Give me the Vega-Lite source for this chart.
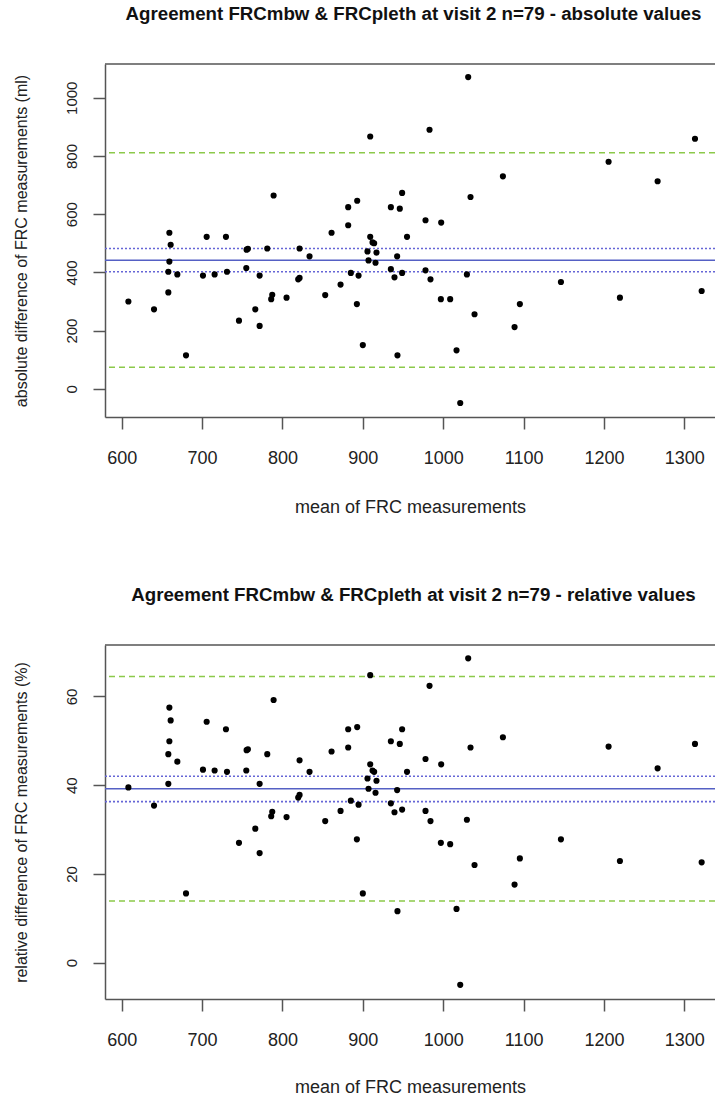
{
  "$schema": "https://vega.github.io/schema/vega-lite/v6.json",
  "padding": {"left": 12, "top": 5, "right": 0, "bottom": 0},
  "autosize": {"type": "pad"},
  "background": "white",
  "spacing": 70,
  "config": {
    "view": {"stroke": null},
    "font": "Liberation Sans",
    "axis": {
      "grid": false,
      "domainColor": "#555555",
      "domainWidth": 1.5,
      "tickColor": "#555555",
      "tickWidth": 1.5,
      "tickSize": 12,
      "labelColor": "#222222",
      "titleColor": "#222222",
      "labelFont": "Liberation Sans",
      "titleFont": "Liberation Sans",
      "titleFontWeight": "normal",
      "format": "d"
    },
    "title": {
      "font": "Liberation Sans",
      "fontSize": 18.7,
      "fontWeight": "bold",
      "color": "#111111",
      "anchor": "middle",
      "baseline": "alphabetic",
      "offset": 39.5,
      "dx": 3.5
    }
  },
  "datasets": {
    "pts": [
      {"mean": 608.3, "abs": 300, "rel": 39.5},
      {"mean": 640.2, "abs": 273, "rel": 35.4},
      {"mean": 659.3, "abs": 536, "rel": 57.5},
      {"mean": 660.9, "abs": 495, "rel": 54.6},
      {"mean": 659.3, "abs": 437, "rel": 49.9},
      {"mean": 658.0, "abs": 402, "rel": 47.0},
      {"mean": 658.0, "abs": 331, "rel": 40.3},
      {"mean": 669.2, "abs": 393, "rel": 45.3},
      {"mean": 680.0, "abs": 115, "rel": 15.6},
      {"mean": 701.1, "abs": 389, "rel": 43.5},
      {"mean": 705.7, "abs": 522, "rel": 54.3},
      {"mean": 715.6, "abs": 393, "rel": 43.3},
      {"mean": 729.7, "abs": 522, "rel": 52.6},
      {"mean": 731.0, "abs": 402, "rel": 43.0},
      {"mean": 745.9, "abs": 234, "rel": 27.0},
      {"mean": 755.4, "abs": 478, "rel": 47.9},
      {"mean": 757.0, "abs": 481, "rel": 48.1},
      {"mean": 755.0, "abs": 415, "rel": 43.3},
      {"mean": 766.2, "abs": 273, "rel": 30.2},
      {"mean": 771.6, "abs": 389, "rel": 40.3},
      {"mean": 771.6, "abs": 216, "rel": 24.7},
      {"mean": 781.1, "abs": 482, "rel": 47.0},
      {"mean": 786.0, "abs": 308, "rel": 33.0},
      {"mean": 787.3, "abs": 323, "rel": 34.0},
      {"mean": 789.0, "abs": 664, "rel": 59.2},
      {"mean": 805.1, "abs": 313, "rel": 32.8},
      {"mean": 819.6, "abs": 376, "rel": 37.2},
      {"mean": 821.3, "abs": 381, "rel": 37.8},
      {"mean": 821.3, "abs": 482, "rel": 45.6},
      {"mean": 833.7, "abs": 455, "rel": 43.0},
      {"mean": 853.2, "abs": 322, "rel": 31.9},
      {"mean": 861.1, "abs": 536, "rel": 47.6},
      {"mean": 872.3, "abs": 358, "rel": 34.2},
      {"mean": 881.8, "abs": 624, "rel": 52.6},
      {"mean": 881.8, "abs": 562, "rel": 48.5},
      {"mean": 885.1, "abs": 398, "rel": 36.5},
      {"mean": 892.6, "abs": 291, "rel": 27.8},
      {"mean": 893.0, "abs": 646, "rel": 53.1},
      {"mean": 894.7, "abs": 389, "rel": 35.6},
      {"mean": 900.0, "abs": 150, "rel": 15.6},
      {"mean": 905.8, "abs": 472, "rel": 41.5},
      {"mean": 907.1, "abs": 441, "rel": 39.2},
      {"mean": 909.2, "abs": 867, "rel": 64.8},
      {"mean": 909.2, "abs": 522, "rel": 44.7},
      {"mean": 912.1, "abs": 503, "rel": 43.3},
      {"mean": 914.1, "abs": 500, "rel": 43.0},
      {"mean": 917.0, "abs": 468, "rel": 41.0},
      {"mean": 915.8, "abs": 433, "rel": 38.3},
      {"mean": 934.9, "abs": 624, "rel": 49.9},
      {"mean": 934.9, "abs": 411, "rel": 35.9},
      {"mean": 939.4, "abs": 383, "rel": 33.9},
      {"mean": 942.7, "abs": 455, "rel": 38.9},
      {"mean": 943.1, "abs": 115, "rel": 11.6},
      {"mean": 946.0, "abs": 619, "rel": 49.3},
      {"mean": 948.9, "abs": 673, "rel": 52.6},
      {"mean": 948.9, "abs": 398, "rel": 34.5},
      {"mean": 955.0, "abs": 522, "rel": 43.0},
      {"mean": 978.0, "abs": 579, "rel": 45.9},
      {"mean": 978.0, "abs": 407, "rel": 34.2},
      {"mean": 983.0, "abs": 890, "rel": 62.4},
      {"mean": 984.2, "abs": 376, "rel": 31.9},
      {"mean": 997.5, "abs": 571, "rel": 44.7},
      {"mean": 997.1, "abs": 308, "rel": 27.0},
      {"mean": 1008.7, "abs": 308, "rel": 26.7},
      {"mean": 1016.6, "abs": 132, "rel": 12.1},
      {"mean": 1021.2, "abs": -49, "rel": -5.0},
      {"mean": 1029.5, "abs": 393, "rel": 32.2},
      {"mean": 1031.1, "abs": 1071, "rel": 68.6},
      {"mean": 1034.0, "abs": 659, "rel": 48.5},
      {"mean": 1039.0, "abs": 256, "rel": 22.0},
      {"mean": 1074.3, "abs": 730, "rel": 50.8},
      {"mean": 1088.8, "abs": 212, "rel": 17.6},
      {"mean": 1095.4, "abs": 291, "rel": 23.5},
      {"mean": 1146.5, "abs": 367, "rel": 27.8},
      {"mean": 1205.8, "abs": 780, "rel": 48.7},
      {"mean": 1219.9, "abs": 313, "rel": 22.9},
      {"mean": 1266.8, "abs": 713, "rel": 43.8},
      {"mean": 1313.3, "abs": 859, "rel": 49.3},
      {"mean": 1321.6, "abs": 336, "rel": 22.6}
    ]
  },
  "vconcat": [
    {
      "width": 610,
      "height": 353,
      "title": "Agreement FRCmbw & FRCpleth at visit 2 n=79 - absolute values",
      "layer": [
        {
          "data": {"values": [{"abs": 811}, {"abs": 74}]},
          "mark": {"type": "rule", "color": "#8cc94a", "strokeWidth": 1.6, "strokeDash": [6, 4]},
          "encoding": {"y": {"field": "abs", "type": "quantitative"}}
        },
        {
          "data": {"values": [{"abs": 482}, {"abs": 402}]},
          "mark": {"type": "rule", "color": "#6666d6", "strokeWidth": 1.6, "strokeDash": [2, 2]},
          "encoding": {"y": {"field": "abs", "type": "quantitative"}}
        },
        {
          "data": {"values": [{"abs": 442}]},
          "mark": {"type": "rule", "color": "#5560c4", "strokeWidth": 1.5},
          "encoding": {"y": {"field": "abs", "type": "quantitative"}}
        },
        {
          "data": {"values": [{"abs": 1116}]},
          "mark": {"type": "rule", "color": "#555555", "strokeWidth": 1.5},
          "encoding": {"y": {"field": "abs", "type": "quantitative"}}
        },
        {
          "data": {"name": "pts"},
          "mark": {"type": "circle", "size": 38, "color": "#000000", "opacity": 1},
          "encoding": {
            "x": {
              "field": "mean",
              "type": "quantitative",
              "scale": {"domain": [579.2, 1338.2], "nice": false, "zero": false},
              "axis": {
                "values": [600, 700, 800, 900, 1000, 1100, 1200, 1300],
                "title": "mean of FRC measurements",
                "labelFontSize": 18,
                "labelBaseline": "alphabetic",
                "labelPadding": 34,
                "titleFontSize": 18,
                "titleBaseline": "alphabetic",
                "titleY": 95
              }
            },
            "y": {
              "field": "abs",
              "type": "quantitative",
              "scale": {"domain": [-97, 1116], "nice": false, "zero": false},
              "axis": {
                "values": [0, 200, 400, 600, 800, 1000],
                "title": "absolute difference of FRC measurements (ml)",
                "labelAngle": -90,
                "labelAlign": "center",
                "labelBaseline": "alphabetic",
                "labelPadding": 17,
                "labelFontSize": 15,
                "titleFontSize": 16,
                "titleBaseline": "alphabetic",
                "titleX": -79
              }
            }
          }
        }
      ]
    },
    {
      "width": 610,
      "height": 354,
      "title": "Agreement FRCmbw & FRCpleth at visit 2 n=79 - relative values",
      "layer": [
        {
          "data": {"values": [{"rel": 64.5}, {"rel": 13.9}]},
          "mark": {"type": "rule", "color": "#8cc94a", "strokeWidth": 1.6, "strokeDash": [6, 4]},
          "encoding": {"y": {"field": "rel", "type": "quantitative"}}
        },
        {
          "data": {"values": [{"rel": 42.0}, {"rel": 36.3}]},
          "mark": {"type": "rule", "color": "#6666d6", "strokeWidth": 1.6, "strokeDash": [2, 2]},
          "encoding": {"y": {"field": "rel", "type": "quantitative"}}
        },
        {
          "data": {"values": [{"rel": 39.2}]},
          "mark": {"type": "rule", "color": "#5560c4", "strokeWidth": 1.5},
          "encoding": {"y": {"field": "rel", "type": "quantitative"}}
        },
        {
          "data": {"values": [{"rel": 71.6}]},
          "mark": {"type": "rule", "color": "#555555", "strokeWidth": 1.5},
          "encoding": {"y": {"field": "rel", "type": "quantitative"}}
        },
        {
          "data": {"name": "pts"},
          "mark": {"type": "circle", "size": 38, "color": "#000000", "opacity": 1},
          "encoding": {
            "x": {
              "field": "mean",
              "type": "quantitative",
              "scale": {"domain": [579.2, 1338.2], "nice": false, "zero": false},
              "axis": {
                "values": [600, 700, 800, 900, 1000, 1100, 1200, 1300],
                "title": "mean of FRC measurements",
                "labelFontSize": 18,
                "labelBaseline": "alphabetic",
                "labelPadding": 34,
                "titleFontSize": 18,
                "titleBaseline": "alphabetic",
                "titleY": 93
              }
            },
            "y": {
              "field": "rel",
              "type": "quantitative",
              "scale": {"domain": [-8.2, 71.6], "nice": false, "zero": false},
              "axis": {
                "values": [0, 20, 40, 60],
                "title": "relative difference of FRC measurements (%)",
                "labelAngle": -90,
                "labelAlign": "center",
                "labelBaseline": "alphabetic",
                "labelPadding": 17,
                "labelFontSize": 15,
                "titleFontSize": 16,
                "titleBaseline": "alphabetic",
                "titleX": -79
              }
            }
          }
        }
      ]
    }
  ]
}
